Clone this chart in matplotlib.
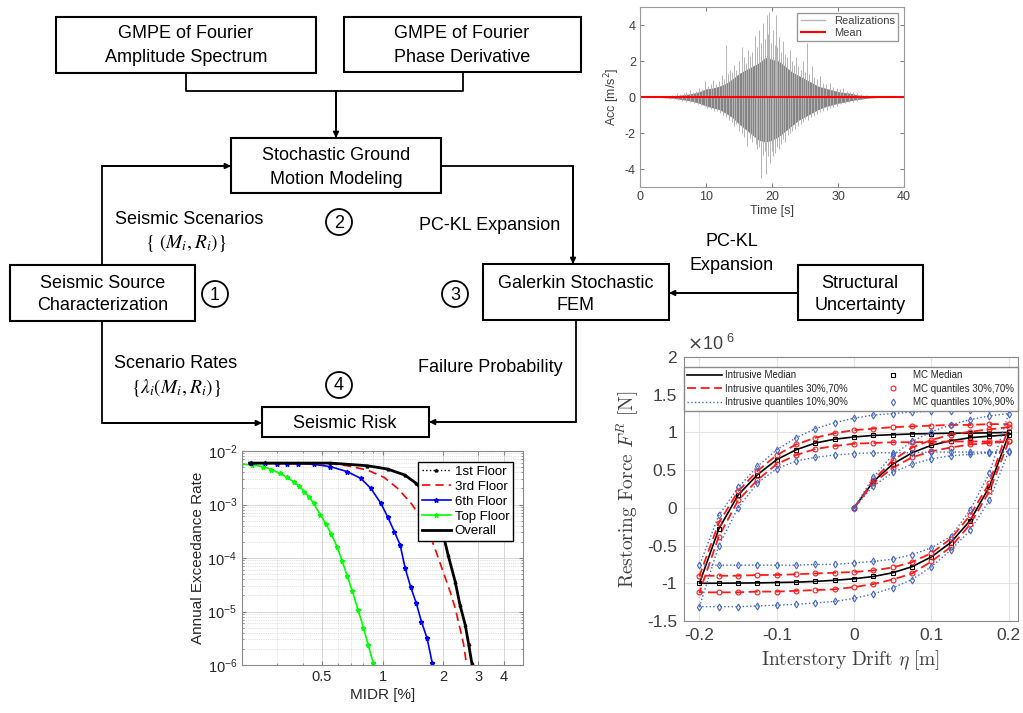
import matplotlib
matplotlib.use('Agg')
import matplotlib.pyplot as plt
from matplotlib.patches import Rectangle, Circle
from matplotlib.lines import Line2D
from matplotlib.ticker import FixedLocator, NullFormatter, LogLocator

plt.rcParams['font.family'] = ['Liberation Sans', 'DejaVu Sans']
plt.rcParams['axes.unicode_minus'] = False

W, H = 1023, 713

# ground motion realizations: envelope of the dense band + the larger spikes
acc_t = [0, 1, 2, 3, 4, 5, 6, 7, 8, 9, 10, 11, 12, 13, 14, 15, 16, 17, 18, 19, 20,
         21, 22, 23, 24, 25, 26, 27, 28, 29, 30, 31, 32, 33, 34, 35, 36, 37, 38, 39, 40]
core_upper = [0, 0, 0, 0.02, 0.04, 0.06, 0.1, 0.15, 0.2, 0.3, 0.45, 0.5, 0.6, 0.75, 1.0, 1.3,
              1.5, 1.7, 1.9, 2.2, 2.1, 2.0, 1.7, 1.4, 1.2, 1.0, 0.8, 0.6, 0.5, 0.4, 0.3, 0.25,
              0.2, 0.12, 0.08, 0.05, 0.03, 0.02, 0.01, 0, 0]
core_lower = [0, 0, 0, -0.02, -0.05, -0.07, -0.12, -0.18, -0.25, -0.35, -0.5, -0.6, -0.7, -0.9,
              -1.15, -1.5, -1.8, -2.1, -2.4, -2.5, -2.4, -2.2, -1.9, -1.6, -1.3, -1.1, -0.9,
              -0.7, -0.55, -0.45, -0.35, -0.28, -0.2, -0.14, -0.09, -0.05, -0.03, -0.02, -0.01, 0, 0]
spike_up_t = [4.2, 4.8, 5.3, 5.6, 6.1, 6.6, 7.0, 7.6, 8.1, 8.5, 9.0, 9.4, 9.8, 10.3, 10.7, 11.1,
              11.5, 12.0, 12.4, 12.8, 13.0, 13.3, 13.6, 14.0, 14.3, 14.6, 15.0, 15.4, 15.7, 16.0,
              16.4, 16.7, 17.0, 17.4, 17.7, 18.1, 18.4, 18.7, 19.0, 19.2, 19.4, 19.6, 19.9, 20.1,
              20.4, 20.6, 20.8, 21.0, 21.3, 21.7, 22.0, 22.3, 22.7, 23.0, 23.4, 23.7, 24.0, 24.4,
              24.7, 25.0, 25.3, 25.6, 26.0, 26.4, 26.8, 27.3, 27.7, 28.2, 28.8, 29.3, 29.8, 30.3,
              30.8, 31.3, 31.8, 32.3, 32.9, 33.5, 34.2, 35.0]
spike_up_v = [0.08, 0.1, 0.12, 0.25, 0.15, 0.2, 0.3, 0.4, 0.3, 0.35, 0.5, 0.45, 0.9, 0.6, 0.7,
              0.95, 0.75, 0.9, 1.2, 1.0, 2.9, 1.3, 1.5, 1.4, 1.8, 1.5, 2.0, 2.8, 2.2, 1.9, 2.6,
              2.3, 2.5, 3.4, 2.8, 3.7, 3.0, 4.1, 3.2, 4.55, 3.5, 4.7, 3.0, 3.7, 2.9, 4.55, 2.8,
              3.35, 2.5, 3.1, 2.4, 2.2, 2.6, 2.0, 1.8, 2.25, 1.7, 1.5, 2.0, 1.4, 3.0, 1.3, 1.7,
              1.1, 1.0, 1.15, 0.8, 0.7, 0.8, 0.55, 0.5, 0.45, 0.5, 0.35, 0.3, 0.3, 0.2, 0.15,
              0.1, 0.07]
spike_dn_t = [4.5, 5.1, 5.8, 6.4, 7.0, 7.6, 8.2, 8.8, 9.3, 9.8, 10.2, 10.7, 11.2, 11.6, 12.1,
              12.6, 13.1, 13.5, 13.9, 14.3, 14.6, 15.0, 15.4, 15.8, 16.2, 16.6, 16.9, 17.2, 17.5,
              17.7, 18.0, 18.3, 18.6, 18.9, 19.1, 19.4, 19.7, 20.0, 20.2, 20.4, 20.7, 21.0, 21.3,
              21.7, 22.0, 22.4, 22.7, 23.1, 23.5, 24.0, 24.4, 24.7, 25.0, 25.4, 25.9, 26.3, 26.8,
              27.3, 27.8, 28.3, 28.8, 29.3, 29.8, 30.4, 31.0, 31.6, 32.2, 32.9, 33.6, 34.4]
spike_dn_v = [-0.1, -0.12, -0.15, -0.2, -0.25, -0.3, -0.35, -0.4, -0.45, -0.5, -0.6, -0.65,
              -0.75, -0.8, -0.9, -1.0, -1.1, -1.3, -1.4, -1.6, -1.5, -1.9, -2.0, -2.2, -2.7,
              -2.3, -2.5, -2.2, -2.6, -2.9, -2.8, -4.5, -3.2, -3.0, -4.3, -3.3, -3.65, -3.0,
              -3.3, -3.1, -2.8, -2.9, -2.6, -2.35, -2.5, -2.1, -2.0, -1.9, -1.8, -1.6, -1.5,
              -1.4, -1.25, -1.3, -1.1, -1.05, -0.95, -0.85, -0.8, -0.7, -0.6, -0.55, -0.5,
              -0.4, -0.35, -0.3, -0.25, -0.2, -0.12, -0.08]
mean_t = [0, 40]
mean_acc = [0, 0]

# exceedance curves, MIDR [%] vs annual rate
first_x = [0.218, 0.551, 0.842, 1.06, 1.29, 1.47, 1.65, 1.82, 1.97, 2.12, 2.30, 2.43, 2.58, 2.68, 2.78]
first_y = [5.95e-3, 5.95e-3, 5.3e-3, 4.6e-3, 3.56e-3, 2.49e-3, 1.51e-3, 7.9e-4, 3.6e-4, 1.14e-4,
           3.6e-5, 1.32e-5, 5.6e-6, 2.5e-6, 1.1e-6]
third_x = [0.218, 0.551, 0.668, 0.842, 1.02, 1.19, 1.39, 1.56, 1.72, 1.86, 2.00, 2.17, 2.30, 2.43, 2.53, 2.61]
third_y = [5.87e-3, 5.8e-3, 5.3e-3, 4.4e-3, 3.2e-3, 2.0e-3, 1.05e-3, 5.5e-4, 2.7e-4, 1.22e-4,
           5.6e-5, 2.35e-5, 1.15e-5, 4.8e-6, 2.5e-6, 1.1e-6]
sixth_x = [0.222, 0.26, 0.30, 0.334, 0.38, 0.454, 0.551, 0.668, 0.780, 0.875, 0.982, 1.06, 1.146,
           1.224, 1.297, 1.380, 1.473, 1.561, 1.667, 1.767]
sixth_y = [5.87e-3, 5.85e-3, 5.82e-3, 5.8e-3, 5.75e-3, 5.64e-3, 5.1e-3, 4.11e-3, 3.08e-3, 2.0e-3,
           1.05e-3, 5.9e-4, 3.1e-4, 1.75e-4, 6.4e-5, 2.9e-5, 1.42e-5, 6.5e-6, 3.15e-6, 1.1e-6]
top_x = [0.198, 0.225, 0.255, 0.28, 0.309, 0.335, 0.361, 0.385, 0.409, 0.430, 0.454, 0.491, 0.524,
         0.557, 0.594, 0.630, 0.668, 0.708, 0.756, 0.804, 0.848, 0.901]
top_y = [5.7e-3, 5.5e-3, 5.1e-3, 4.5e-3, 3.83e-3, 3.2e-3, 2.67e-3, 2.2e-3, 1.74e-3, 1.4e-3,
         1.05e-3, 6.4e-4, 4.26e-4, 2.77e-4, 1.63e-4, 8.8e-5, 4.6e-5, 2.4e-5, 1.07e-5, 5.0e-6,
         2.4e-6, 1.07e-6]
overall_x = [0.218, 0.551, 0.842, 1.06, 1.29, 1.47, 1.65, 1.82, 1.97, 2.12, 2.30, 2.43, 2.58, 2.68, 2.78]
overall_y = [5.95e-3, 5.95e-3, 5.3e-3, 4.6e-3, 3.56e-3, 2.49e-3, 1.51e-3, 7.9e-4, 3.6e-4, 1.14e-4,
             3.6e-5, 1.32e-5, 5.6e-6, 2.5e-6, 1.1e-6]

# hysteresis path: virgin loading, unloading to -0.2, reloading to 0.2 (force in 1e6 N)
drift_load = [0, 0.025, 0.05, 0.075, 0.1, 0.125, 0.15, 0.175, 0.2]
drift_unload = [0.175, 0.15, 0.125, 0.1, 0.075, 0.05, 0.025, 0, -0.025, -0.05, -0.075, -0.1,
                -0.125, -0.15, -0.175, -0.2]
drift_reload = [-0.175, -0.15, -0.125, -0.1, -0.075, -0.05, -0.025, 0, 0.025, 0.05, 0.075, 0.1,
                0.125, 0.15, 0.175, 0.2]

median_load = [0, 0.35, 0.58, 0.73, 0.83, 0.89, 0.93, 0.95, 0.97]
median_unload = [0.28, -0.17, -0.46, -0.65, -0.78, -0.86, -0.91, -0.94, -0.96, -0.975, -0.985,
                 -0.99, -0.995, -0.997, -0.999, -1.0]
median_reload = [-0.28, 0.17, 0.44, 0.64, 0.77, 0.86, 0.91, 0.94, 0.96, 0.97, 0.98, 0.985,
                 0.99, 0.99, 0.995, 1.0]

q70_load = [0, 0.37, 0.63, 0.80, 0.90, 0.97, 1.01, 1.04, 1.07]
q70_unload = [0.33, -0.10, -0.41, -0.60, -0.72, -0.79, -0.83, -0.85, -0.86, -0.87, -0.88, -0.89,
              -0.89, -0.90, -0.90, -0.90]
q70_reload = [-0.20, 0.22, 0.49, 0.70, 0.84, 0.93, 0.99, 1.03, 1.05, 1.07, 1.08, 1.09, 1.10,
              1.10, 1.11, 1.11]

q30_load = [0, 0.33, 0.53, 0.67, 0.75, 0.80, 0.84, 0.86, 0.88]
q30_unload = [0.22, -0.22, -0.52, -0.71, -0.87, -0.95, -1.01, -1.05, -1.08, -1.09, -1.10, -1.11,
              -1.11, -1.12, -1.12, -1.12]
q30_reload = [-0.38, 0.10, 0.37, 0.58, 0.70, 0.78, 0.82, 0.85, 0.86, 0.87, 0.87, 0.875, 0.88,
              0.88, 0.88, 0.88]

q90_load = [0, 0.41, 0.70, 0.88, 1.01, 1.10, 1.17, 1.22, 1.25]
q90_unload = [0.46, -0.03, -0.38, -0.53, -0.62, -0.68, -0.71, -0.73, -0.75, -0.75, -0.76, -0.76,
              -0.76, -0.76, -0.76, -0.76]
q90_reload = [-0.10, 0.27, 0.55, 0.77, 0.93, 1.05, 1.13, 1.19, 1.23, 1.25, 1.27, 1.28, 1.29,
              1.30, 1.31, 1.31]

q10_load = [0, 0.29, 0.47, 0.58, 0.65, 0.69, 0.71, 0.73, 0.75]
q10_unload = [0.10, -0.30, -0.56, -0.78, -0.95, -1.06, -1.14, -1.20, -1.24, -1.26, -1.28, -1.29,
              -1.30, -1.31, -1.31, -1.31]
q10_reload = [-0.50, 0.0, 0.33, 0.52, 0.62, 0.67, 0.70, 0.72, 0.73, 0.73, 0.73, 0.74, 0.74,
              0.74, 0.74, 0.74]


def px_axes(fig, left, top, right, bottom, **kw):
    return fig.add_axes([left / W, 1 - bottom / H, (right - left) / W, (bottom - top) / H], **kw)


def box(ax, x0, y0, x1, y1):
    ax.add_patch(Rectangle((x0, y0), x1 - x0, y1 - y0, fill=False, lw=1.5, ec='k'))


def label(ax, x, y, s, size=13, **kw):
    ax.text(x, y, s, ha='center', va='center', fontsize=size, **kw)


def path(ax, pts, arrow=False):
    xs = [p[0] for p in pts]
    ys = [p[1] for p in pts]
    ax.plot(xs, ys, color='k', lw=1.3, solid_capstyle='butt')
    if arrow:
        ax.annotate('', xy=pts[-1], xytext=pts[-2],
                    arrowprops=dict(arrowstyle='-|>', color='k', lw=1.3,
                                    mutation_scale=8, shrinkA=0, shrinkB=0))


def circled(ax, x, y, n):
    ax.add_patch(Circle((x, y), 13, fill=False, lw=1.3, ec='k'))
    label(ax, x, y + 1, n)


fig = plt.figure(figsize=(W / 100, H / 100), dpi=100)

# flow chart, drawn in pixel coordinates
flow = fig.add_axes([0, 0, 1, 1])
flow.set_xlim(0, W)
flow.set_ylim(H, 0)
flow.axis('off')

box(flow, 56, 17, 316, 73)
label(flow, 186, 34, 'GMPE of Fourier')
label(flow, 186, 58, 'Amplitude Spectrum')
box(flow, 344, 17, 581, 72)
label(flow, 462, 34, 'GMPE of Fourier')
label(flow, 462, 58, 'Phase Derivative')
path(flow, [(186, 73), (186, 91), (463, 91), (463, 72)])
path(flow, [(336, 91), (336, 138)], arrow=True)

box(flow, 231, 138, 441, 193)
label(flow, 336, 155, 'Stochastic Ground')
label(flow, 336, 179, 'Motion Modeling')

box(flow, 10, 265, 195, 321)
label(flow, 103, 283, 'Seismic Source')
label(flow, 103, 306, 'Characterization')
path(flow, [(102, 265), (102, 166), (231, 166)], arrow=True)
label(flow, 189, 219, 'Seismic Scenarios')
label(flow, 186, 243, r'$\{\ (M_i, R_i)\}$', math_fontfamily='stix', size=14)

path(flow, [(441, 166), (573, 166), (573, 264)], arrow=True)
label(flow, 490, 225, 'PC-KL Expansion')

box(flow, 483, 264, 669, 320)
label(flow, 576, 283, 'Galerkin Stochastic')
label(flow, 576, 306, 'FEM')

box(flow, 798, 265, 923, 320)
label(flow, 860, 283, 'Structural')
label(flow, 860, 306, 'Uncertainty')
path(flow, [(798, 293), (669, 293)], arrow=True)
label(flow, 732, 242, 'PC-KL')
label(flow, 732, 265, 'Expansion')

box(flow, 262, 407, 429, 437)
label(flow, 345, 423, 'Seismic Risk')
path(flow, [(102, 321), (102, 423), (262, 423)], arrow=True)
label(flow, 176, 363, 'Scenario Rates')
label(flow, 176, 388, r'$\{\lambda_i(M_i, R_i)\}$', math_fontfamily='stix', size=14)
path(flow, [(576, 320), (576, 422), (429, 422)], arrow=True)
label(flow, 490, 367, 'Failure Probability')

circled(flow, 215, 294, '1')
circled(flow, 339, 222, '2')
circled(flow, 455, 294, '3')
circled(flow, 339, 385, '4')

# ground acceleration realizations
tick_grey = '#404040'
ax1 = px_axes(fig, 640, 7, 904, 187)
ax1.vlines(spike_up_t, 0, spike_up_v, color='#b4b4b4', lw=0.7)
ax1.vlines(spike_dn_t, 0, spike_dn_v, color='#b4b4b4', lw=0.7)
ax1.fill_between(acc_t, core_lower, core_upper, color='#858585', lw=0)
ax1.plot(mean_t, mean_acc, color='#ff0000', lw=1.5)
ax1.set_xlim(0, 40)
ax1.set_ylim(-5, 5)
ax1.set_xticks([0, 10, 20, 30, 40])
ax1.set_yticks([-4, -2, 0, 2, 4])
ax1.tick_params(labelsize=9, colors='#808080', labelcolor=tick_grey, direction='in',
                length=3, top=True, right=True, pad=3)
for s in ax1.spines.values():
    s.set_color('#9a9a9a')
ax1.set_xlabel('Time [s]', fontsize=9, color=tick_grey, labelpad=1)
ax1.set_ylabel(r'Acc [m/s$^2$]', fontsize=9, color=tick_grey, labelpad=2)
ax1.legend([Line2D([], [], color='#b4b4b4', lw=1), Line2D([], [], color='#ff0000', lw=1.5)],
           ['Realizations', 'Mean'], loc='upper right', fontsize=8, fancybox=False,
           edgecolor='#9a9a9a', framealpha=1, handlelength=2.2, borderpad=0.3,
           labelspacing=0.2, borderaxespad=0.5, labelcolor=tick_grey)

# exceedance rate curves
ax2 = px_axes(fig, 242, 451, 523, 665)
ax2.plot(top_x, top_y, color='#00ff00', lw=1.2, marker='*', ms=3.5, label='Top Floor')
ax2.plot(sixth_x, sixth_y, color='#0000ff', lw=1.2, marker='*', ms=3.5, label='6th Floor')
ax2.plot(third_x, third_y, color='#ff0000', lw=1.2, ls=(0, (5, 3)), label='3rd Floor')
ax2.plot(overall_x, overall_y, color='k', lw=2, label='Overall')
ax2.plot(first_x, first_y, color='k', lw=1, ls=':', marker='^', ms=2, label='1st Floor')
ax2.set_xscale('log')
ax2.set_yscale('log')
ax2.set_xlim(0.2, 5)
ax2.set_ylim(1e-6, 1e-2)
ax2.xaxis.set_major_locator(FixedLocator([0.5, 1, 2, 3, 4]))
ax2.set_xticklabels(['0.5', '1', '2', '3', '4'])
ax2.xaxis.set_minor_locator(FixedLocator([0.2, 0.3, 0.4, 0.6, 0.7, 0.8, 0.9, 5]))
ax2.xaxis.set_minor_formatter(NullFormatter())
ax2.yaxis.set_major_locator(LogLocator(base=10, numticks=10))
ax2.yaxis.set_minor_locator(LogLocator(base=10, subs=range(2, 10), numticks=10))
ax2.yaxis.set_minor_formatter(NullFormatter())
ax2.grid(True, which='major', color='#d0d0d0', lw=0.6)
ax2.grid(True, which='minor', color='#c8c8c8', lw=0.5, ls=':')
ax2.tick_params(which='both', direction='in', top=True, right=True, colors='#808080',
                labelcolor='#262626', labelsize=10.5)
ax2.tick_params(which='major', length=3)
ax2.tick_params(which='minor', length=1.5)
for s in ax2.spines.values():
    s.set_color('#8a8a8a')
ax2.set_xlabel('MIDR [%]', fontsize=11, color='#262626', labelpad=3)
ax2.set_ylabel('Annual Exceedance Rate', fontsize=11, color='#262626', labelpad=2)
h, l = ax2.get_legend_handles_labels()
order = [4, 2, 1, 0, 3]
ax2.legend([h[i] for i in order], [l[i] for i in order], loc='upper right',
           bbox_to_anchor=(0.965, 0.95), fontsize=9.5, fancybox=False, edgecolor='k',
           framealpha=1, handlelength=2.2, borderpad=0.3, labelspacing=0.2,
           handletextpad=0.3, borderaxespad=0)

# hysteresis of the restoring force
drift = drift_load + drift_unload + drift_reload
median_f = median_load + median_unload + median_reload
q70_f = q70_load + q70_unload + q70_reload
q30_f = q30_load + q30_unload + q30_reload
q90_f = q90_load + q90_unload + q90_reload
q10_f = q10_load + q10_unload + q10_reload

red = '#ff1a1a'
blue = '#4466c4'
ax3 = px_axes(fig, 684, 357, 1018, 621)
l1, = ax3.plot(drift, median_f, color='k', lw=1.2)
l2, = ax3.plot(drift, q30_f, color=red, lw=1.3, ls=(0, (5, 2.5)))
ax3.plot(drift, q70_f, color=red, lw=1.3, ls=(0, (5, 2.5)))
l3, = ax3.plot(drift, q10_f, color=blue, lw=1.0, ls=':')
ax3.plot(drift, q90_f, color=blue, lw=1.0, ls=':')
m1, = ax3.plot(drift, median_f, ls='none', marker='s', ms=3.5, mfc='none', mec='k', mew=0.8)
m2, = ax3.plot(drift, q30_f, ls='none', marker='o', ms=3.5, mfc='none', mec=red, mew=0.8)
ax3.plot(drift, q70_f, ls='none', marker='o', ms=3.5, mfc='none', mec=red, mew=0.8)
m3, = ax3.plot(drift, q10_f, ls='none', marker='d', ms=3.5, mfc='none', mec=blue, mew=0.8)
ax3.plot(drift, q90_f, ls='none', marker='d', ms=3.5, mfc='none', mec=blue, mew=0.8)
ax3.set_xlim(-0.22, 0.212)
ax3.set_ylim(-1.5, 2)
ax3.set_xticks([-0.2, -0.1, 0, 0.1, 0.2])
ax3.set_xticklabels(['-0.2', '-0.1', '0', '0.1', '0.2'])
ax3.set_yticks([-1.5, -1, -0.5, 0, 0.5, 1, 1.5, 2])
ax3.set_yticklabels(['-1.5', '-1', '-0.5', '0', '0.5', '1', '1.5', '2'])
ax3.grid(True, color='#e3e3e3', lw=0.8)
ax3.set_axisbelow(True)
ax3.tick_params(direction='in', length=0, labelsize=12.5, labelcolor='#404040', pad=5)
for s in ax3.spines.values():
    s.set_color('#8a8a8a')
ax3.text(0.01, 1.012, r'$\times\mathdefault{10^{\ 6}}$', transform=ax3.transAxes,
         fontsize=13, color='#404040', ha='left', va='bottom')
ax3.set_xlabel(r'$\mathrm{Interstory\ Drift}\ \eta\ [\mathrm{m}]$', fontsize=14,
               color='#404040', math_fontfamily='cm', labelpad=4)
ax3.set_ylabel(r'$\mathrm{Restoring\ Force}\ F^R\ [\mathrm{N}]$', fontsize=14,
               color='#404040', math_fontfamily='cm', labelpad=4)
ax3.legend([l1, l2, l3, m1, m2, m3],
           ['Intrusive Median', 'Intrusive quantiles 30%,70%', 'Intrusive quantiles 10%,90%',
            'MC Median', 'MC quantiles 30%,70%', 'MC quantiles 10%,90%'],
           ncol=2, mode='expand', loc='upper left', bbox_to_anchor=(0.0, 0.0, 1.0, 0.962),
           borderaxespad=0, fontsize=7, fancybox=False, edgecolor='#8a8a8a', framealpha=1,
           handlelength=3.6, labelspacing=0.35, borderpad=0.35, handletextpad=0.3,
           labelcolor='#262626')

fig.savefig('out.png', dpi=100, facecolor='white')
